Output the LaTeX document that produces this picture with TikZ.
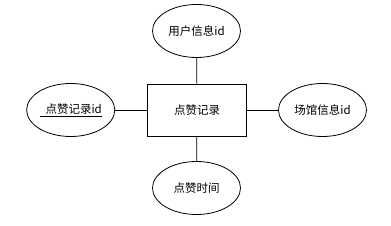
\documentclass[tikz,border=0pt]{standalone}
\usepackage{fontspec}
\newfontfamily\cjk{Noto Sans CJK SC}
\usetikzlibrary{shapes.geometric}

\begin{document}
\begin{tikzpicture}[x=1pt,y=-1pt,font=\cjk\fontsize{11.5}{13}\selectfont,
      ent/.style={draw,line width=0.8pt,minimum width=99pt,minimum height=52pt,
                  inner sep=0pt},
      attr/.style={draw,ellipse,line width=0.8pt,minimum width=88pt,
                   minimum height=53pt,inner sep=0pt}]
    \useasboundingbox (0,0) rectangle (391,225);

    \node[ent]  (rec)  at (197,110)   {点赞记录};

    \node[attr] (user) at (196.5,31)  {用户信息id};
    \node[attr] (rid)  at (70.7,110)  {\underline{\hspace{6pt}点赞记录id}};
    \node[attr] (ven)  at (322.5,110) {场馆信息id};
    \node[attr] (time) at (196.5,188) {点赞时间};

    \foreach \t in {user,rid,ven,time}
      \draw[line width=0.8pt] (rec) -- (\t);
  \end{tikzpicture}
\end{document}
